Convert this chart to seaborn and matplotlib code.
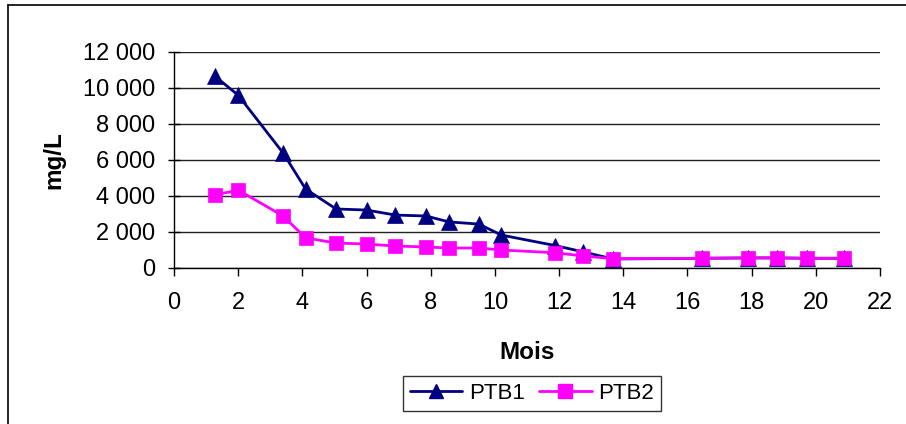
import matplotlib
matplotlib.use("Agg")
import matplotlib.pyplot as plt
import seaborn as sns
import pandas as pd
from matplotlib.lines import Line2D
from matplotlib.ticker import FuncFormatter, MultipleLocator

months = [1.28, 2.0, 3.4, 4.1, 5.05, 6.0, 6.9, 7.85, 8.57, 9.5, 10.2, 11.87, 12.74, 13.68, 16.45, 17.88, 18.79, 19.72, 20.87]
ptb1 = [10650, 9600, 6390, 4390, 3280, 3220, 2940, 2890, 2560, 2440, 1830, 1250, 900, 500, 540, 560, 560, 540, 540]
ptb2 = [4060, 4330, 2890, 1670, 1390, 1330, 1220, 1170, 1110, 1110, 1000, 850, 670, 520, 540, 560, 560, 540, 540]
series_names = ["PTB1", "PTB2"]

df = pd.concat([
    pd.DataFrame({"Mois": months, "mg/L": ptb1, "série": "PTB1"}),
    pd.DataFrame({"Mois": months, "mg/L": ptb2, "série": "PTB2"}),
])

sns.set_theme(style="white")
plt.rcParams["font.family"] = ["Liberation Sans", "DejaVu Sans"]
plt.rcParams.update({"text.color": "black", "axes.labelcolor": "black",
                     "xtick.color": "black", "ytick.color": "black"})

fig = plt.figure(figsize=(9.06, 4.24), dpi=100)
ax = fig.add_axes([174 / 906, 1 - 268 / 424, (880 - 174) / 906, (268 - 52) / 424])

colors = {"PTB1": "#000080", "PTB2": "#FF00FF"}
markers = {"PTB1": "^", "PTB2": "s"}
sizes = {"PTB1": 11.5, "PTB2": 10.5}
for name in series_names:
    sub = df[df["série"] == name]
    sns.lineplot(data=sub, x="Mois", y="mg/L", ax=ax, color=colors[name],
                 marker=markers[name], markersize=sizes[name], markeredgewidth=0.5,
                 markeredgecolor=colors[name], linewidth=2, label=name, legend=False)

ax.set_xlim(0, 22)
ax.set_ylim(0, 12000)
ax.xaxis.set_major_locator(MultipleLocator(2))
ax.yaxis.set_major_locator(MultipleLocator(2000))
ax.yaxis.set_major_formatter(FuncFormatter(lambda v, p: f"{int(v):,}".replace(",", " ")))
ax.grid(axis="y", color="#222222", linewidth=1)
ax.set_axisbelow(True)
for s in ["top", "right"]:
    ax.spines[s].set_visible(False)
for s in ["left", "bottom"]:
    ax.spines[s].set_color("black")
    ax.spines[s].set_linewidth(1)
ax.tick_params(axis="x", direction="out", length=6, width=1, color="black", bottom=True, labelsize=17, pad=11.5)
ax.tick_params(axis="y", direction="inout", length=9, width=1, color="black", left=True, labelsize=17, pad=9)
ax.set_xlabel("Mois", fontsize=17.5, fontweight="bold", labelpad=19)
ax.set_ylabel("mg/L", fontsize=17.5, fontweight="bold", labelpad=13)

handles = [Line2D([0], [0], color=colors[n], marker=markers[n], markersize=sizes[n] - 1, linewidth=2) for n in series_names]
leg = fig.legend(handles, series_names, loc="center", bbox_to_anchor=(532 / 906, 1 - 393.5 / 424),
                 ncol=2, frameon=True, fancybox=False, fontsize=16, handlelength=2.35,
                 columnspacing=0.65, handletextpad=0.3, borderpad=0.3, borderaxespad=0)
leg.get_frame().set_edgecolor("black")
leg.get_frame().set_linewidth(1)

fig.add_artist(Line2D([8 / 906, 8 / 906], [0, 1 - 5 / 424], color="black", linewidth=1.2, transform=fig.transFigure))
fig.add_artist(Line2D([8 / 906, 1], [1 - 5 / 424, 1 - 5 / 424], color="black", linewidth=1.2, transform=fig.transFigure))

fig.savefig("out.png", dpi=100)
